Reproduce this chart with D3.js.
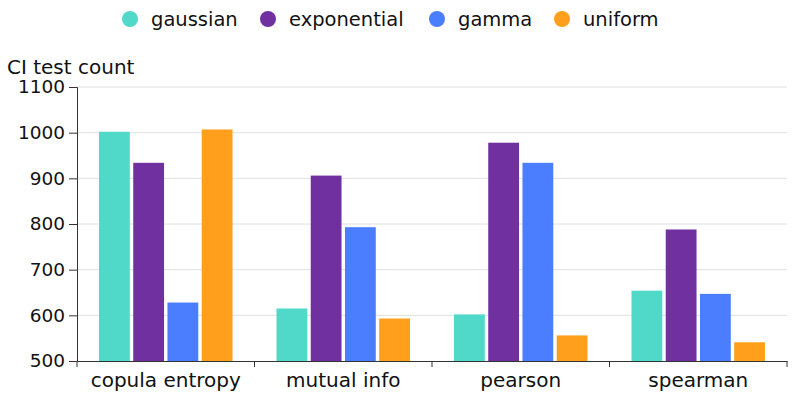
<!DOCTYPE html>
<html>
<head>
<meta charset="utf-8">
<script src="https://cdn.jsdelivr.net/npm/d3@7"></script>
<style>
  body { margin: 0; background: #fff; }
  text { font-family: "DejaVu Sans", sans-serif; fill: #111; }
</style>
</head>
<body>
<script>
const categories = ["copula entropy", "mutual info", "pearson", "spearman"];
const seriesNames = ["gaussian", "exponential", "gamma", "uniform"];
const gaussian = [1002, 615, 602, 654];
const exponential = [934, 906, 978, 788];
const gamma = [628, 793, 934, 647];
const uniform = [1007, 593, 556, 541];
const yTicks = [500, 600, 700, 800, 900, 1000, 1100];
const colors = ["#50d8c8", "#7030a0", "#4a7eff", "#ff9f1c"];

const seriesValues = [gaussian, exponential, gamma, uniform];

const width = 797, height = 399;
const margin = {top: 87, right: 10, bottom: 38, left: 77};
const innerW = width - margin.left - margin.right;
const innerH = height - margin.top - margin.bottom;

const svg = d3.select("body").append("svg")
  .attr("width", width)
  .attr("height", height);

const g = svg.append("g")
  .attr("transform", "translate(" + margin.left + "," + margin.top + ")");

const x = d3.scaleBand().domain(categories).range([0, innerW]);
const xs = d3.scaleBand().domain(seriesNames)
  .range([22, x.bandwidth() - 22])
  .paddingInner(0.1);
const y = d3.scaleLinear().domain([500, 1100]).range([innerH, 0]);

// grid
g.selectAll(".grid").data(yTicks.slice(1)).enter().append("line")
  .attr("x1", 0).attr("x2", innerW)
  .attr("y1", d => y(d)).attr("y2", d => y(d))
  .attr("stroke", "#e0e0e0").attr("stroke-width", 1);

// bars
const rows = categories.map((c, i) => seriesNames.map((s, j) => ({cat: c, s: s, v: seriesValues[j][i], c: colors[j]})));
g.selectAll(".grp").data(rows).enter().append("g")
  .attr("transform", d => "translate(" + x(d[0].cat) + ",0)")
  .selectAll("rect").data(d => d).enter().append("rect")
  .attr("x", d => xs(d.s))
  .attr("width", xs.bandwidth())
  .attr("y", d => y(d.v))
  .attr("height", d => y(500) - y(d.v))
  .attr("fill", d => d.c);

// y axis
const yAxis = g.append("g")
  .call(d3.axisLeft(y).tickValues(yTicks).tickFormat(d3.format("d")).tickSize(8).tickPadding(4));
yAxis.select(".domain").attr("stroke", "#333");
yAxis.selectAll(".tick line").attr("stroke", "#333");
yAxis.selectAll("text").style("font-size", "18.5px").attr("fill", "#111");

// x axis
const xAxis = g.append("g")
  .attr("transform", "translate(0," + innerH + ")")
  .call(d3.axisBottom(x).tickSize(0).tickPadding(12));
xAxis.select(".domain").attr("stroke", "#333");
xAxis.selectAll("text").style("font-size", "20px").attr("fill", "#111");
g.selectAll(".xtick").data(d3.range(categories.length + 1)).enter().append("line")
  .attr("x1", i => i * x.step()).attr("x2", i => i * x.step())
  .attr("y1", innerH).attr("y2", innerH + 6)
  .attr("stroke", "#333");

// axis title
svg.append("text")
  .attr("x", 7).attr("y", 74)
  .style("font-size", "20px")
  .text("CI test count");

// legend
const legendX = [130, 268, 437, 562];
const leg = svg.selectAll(".leg").data(seriesNames).enter().append("g")
  .attr("transform", (d, i) => "translate(" + legendX[i] + ",19)");
leg.append("circle").attr("r", 8).attr("fill", (d, i) => colors[i]);
leg.append("text").attr("x", 21).attr("dy", "0.35em")
  .style("font-size", "19.5px").text(d => d);
</script>
</body>
</html>
